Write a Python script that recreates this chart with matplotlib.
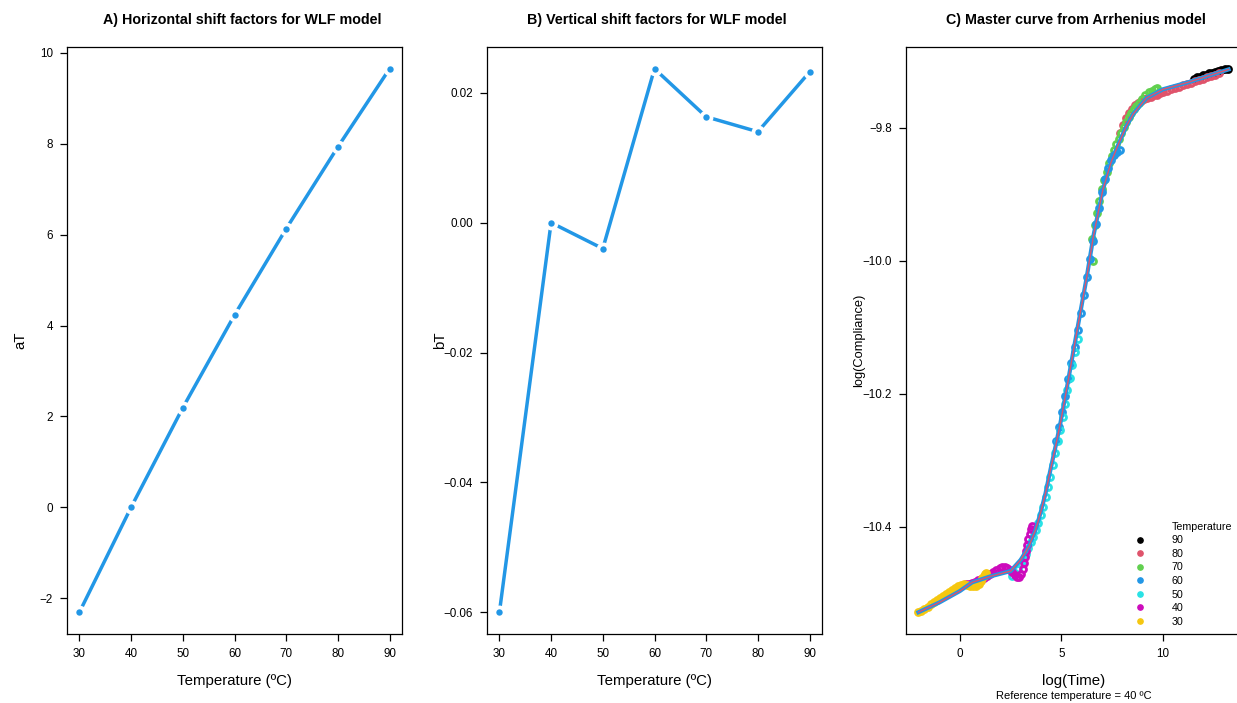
import numpy as np
import matplotlib
matplotlib.use('Agg')
import matplotlib.pyplot as plt
from matplotlib.lines import Line2D
from matplotlib.ticker import FuncFormatter

plt.rcParams['font.family'] = ['Liberation Sans', 'DejaVu Sans']

# --- shift factors (panels A, B) ---
temps = [30, 40, 50, 60, 70, 80, 90]
aT = [-2.31, 0.0, 2.19, 4.23, 6.13, 7.93, 9.65]
bT = [-0.0600, 0.0000, -0.0040, 0.0237, 0.0163, 0.0140, 0.0232]

# --- master curve data (panel C), log(Time) vs log(Compliance) ---
x90 = [11.55, 11.7, 11.85, 12.0, 12.15, 12.3, 12.45, 12.6, 12.75, 12.9, 13.05, 13.2]
y90 = [-9.726, -9.724, -9.723, -9.721, -9.720, -9.718, -9.717, -9.716, -9.714, -9.713, -9.712, -9.711]

x80 = [7.9, 8.05, 8.2, 8.35, 8.5, 8.65, 8.8, 8.95, 9.1, 9.25, 9.4, 9.55, 9.7, 9.85, 10.0,
       10.2, 10.4, 10.6, 10.8, 11.0, 11.2, 11.4, 11.6, 11.8, 12.0, 12.2, 12.4, 12.6, 12.8]
y80 = [-9.808, -9.795, -9.785, -9.777, -9.771, -9.766, -9.762, -9.759, -9.757, -9.755,
       -9.753, -9.751, -9.750, -9.748, -9.746, -9.744, -9.742, -9.740, -9.738, -9.736,
       -9.734, -9.732, -9.730, -9.728, -9.726, -9.724, -9.722, -9.720, -9.718]

x70 = [6.57, 6.52, 6.64, 6.76, 6.88, 7.0, 7.12, 7.24, 7.36, 7.48, 7.6, 7.72, 7.84, 7.96,
       8.08, 8.2, 8.32, 8.44, 8.56, 8.7, 8.85, 9.0, 9.15, 9.3, 9.45, 9.6, 9.7]
y70 = [-10.0, -9.967, -9.946, -9.928, -9.910, -9.892, -9.878, -9.866, -9.853, -9.843,
       -9.834, -9.825, -9.816, -9.807, -9.799, -9.791, -9.784, -9.778, -9.772, -9.767,
       -9.762, -9.756, -9.751, -9.746, -9.744, -9.742, -9.740]

x60 = [4.75, 4.9, 5.05, 5.2, 5.35, 5.5, 5.65, 5.8, 5.95, 6.1, 6.25, 6.4, 6.55, 6.7,
       6.85, 7.0, 7.15, 7.3, 7.45, 7.6, 7.75, 7.88]
y60 = [-10.272, -10.250, -10.227, -10.203, -10.178, -10.154, -10.130, -10.104, -10.078,
       -10.051, -10.025, -9.998, -9.971, -9.945, -9.920, -9.897, -9.877, -9.860, -9.848,
       -9.841, -9.836, -9.834]

x50 = [2.55, 2.7, 2.85, 3.0, 3.12, 3.25, 3.38, 3.5, 3.62, 3.74, 3.86, 3.98, 4.1, 4.22,
       4.34, 4.46, 4.58, 4.7, 4.82, 4.94, 5.06, 5.18, 5.3, 5.42, 5.54, 5.66, 5.8]
y50 = [-10.474, -10.470, -10.464, -10.457, -10.450, -10.442, -10.433, -10.424, -10.415,
       -10.405, -10.394, -10.383, -10.370, -10.356, -10.341, -10.325, -10.308, -10.290,
       -10.272, -10.254, -10.235, -10.215, -10.195, -10.176, -10.157, -10.138, -10.117]

x40 = [0.3, 0.45, 0.6, 0.75, 0.9, 1.05, 1.2, 1.35, 1.5, 1.65, 1.8, 1.95, 2.08, 2.2, 2.32,
       2.45, 2.58, 2.7, 2.82, 2.93, 3.02, 3.09, 3.14, 3.19, 3.25, 3.31, 3.38, 3.45, 3.52, 3.57]
y40 = [-10.487, -10.486, -10.485, -10.483, -10.481, -10.479, -10.477, -10.475, -10.472,
       -10.469, -10.466, -10.463, -10.461, -10.461, -10.462, -10.465, -10.469, -10.473,
       -10.476, -10.476, -10.472, -10.464, -10.455, -10.446, -10.437, -10.428, -10.419,
       -10.411, -10.404, -10.399]

x30 = [-2.05, -1.9, -1.75, -1.6, -1.45, -1.3, -1.15, -1.0, -0.85, -0.7, -0.55, -0.4,
       -0.25, -0.1, 0.05, 0.2, 0.35, 0.5, 0.65, 0.8, 0.92, 1.02, 1.1, 1.17, 1.23, 1.27]
y30 = [-10.529, -10.527, -10.524, -10.521, -10.517, -10.514, -10.511, -10.508, -10.505,
       -10.501, -10.498, -10.495, -10.492, -10.490, -10.488, -10.487, -10.488, -10.489,
       -10.490, -10.489, -10.486, -10.482, -10.478, -10.474, -10.471, -10.470]

# fitted master curve
xfit = [-2.05, -1.0, 0.0, 0.6, 1.5, 2.5, 3.0, 3.4, 3.73, 3.97, 4.22, 4.46, 4.71, 4.95,
        5.28, 5.6, 5.93, 6.25, 6.6, 7.05, 7.45, 7.85, 8.2, 8.55, 9.2, 10.0, 11.3, 13.25]
yfit = [-10.529, -10.514, -10.497, -10.484, -10.475, -10.467, -10.450, -10.430, -10.405,
        -10.380, -10.350, -10.315, -10.280, -10.245, -10.190, -10.135, -10.079, -10.025,
        -9.960, -9.893, -9.852, -9.822, -9.798, -9.779, -9.755, -9.742, -9.731, -9.712]

series_labels = ['90', '80', '70', '60', '50', '40', '30']
series_x = [x90, x80, x70, x60, x50, x40, x30]
series_y = [y90, y80, y70, y60, y50, y40, y30]
series_colors = ['#000000', '#DF536B', '#61D04F', '#2297E6', '#28E2E5', '#CD0BBC', '#F5C710']

BLUE = '#2297E6'
W, H = 1237, 703


def rlim(v):
    # R style axis range: data range + 4 %
    lo, hi = min(v), max(v)
    pad = 0.04 * (hi - lo)
    return lo - pad, hi + pad


def style(ax):
    for s in ax.spines.values():
        s.set_linewidth(0.9)
    ax.tick_params(direction='out', length=5, width=0.9, labelsize=8.4)
    ax.tick_params(axis='x', pad=5.2)
    ax.tick_params(axis='y', pad=5)


def put_labels(ax, title, xlabel, ylabel, ysize=10.8, tshift=0.0):
    ax.set_title(title, fontweight='bold', fontsize=10.3, pad=16.5)
    ax.title.set_x(0.5 + tshift)
    ax.set_xlabel(xlabel, fontsize=10.8, va='center')
    ax.xaxis.set_label_coords(0.5, -47 / 587)
    ax.set_ylabel(ylabel, fontsize=ysize, va='center', ha='center')
    ax.yaxis.set_label_coords(-47 / 335, 0.5)


def fmt(decimals):
    return FuncFormatter(lambda v, p: f'{v:.{decimals}f}'.replace('-', '\u2212'))


fig = plt.figure(figsize=(W / 100, H / 100), dpi=100)

# A) horizontal shift factors
ax1 = fig.add_axes([67 / W, 69 / H, 335 / W, 587 / H])
ax1.plot(temps, aT, color=BLUE, lw=2.5, solid_capstyle='butt', zorder=2)
ax1.plot(temps, aT, ls='none', marker='o', ms=10, mfc='white', mec='none', zorder=3)
ax1.plot(temps, aT, ls='none', marker='o', ms=4.6, mfc=BLUE, mec='none', zorder=4)
ax1.set_xlim(rlim(temps))
ax1.set_ylim(rlim(aT))
ax1.set_xticks(temps)
ax1.set_yticks([-2, 0, 2, 4, 6, 8, 10])
ax1.yaxis.set_major_formatter(fmt(0))
style(ax1)
put_labels(ax1, 'A) Horizontal shift factors for WLF model', 'Temperature (ºC)', 'aT',
           tshift=8 / 335)

# B) vertical shift factors
ax2 = fig.add_axes([487 / W, 69 / H, 335 / W, 587 / H])
ax2.plot(temps, bT, color=BLUE, lw=2.5, solid_capstyle='butt', zorder=2)
ax2.plot(temps, bT, ls='none', marker='o', ms=10, mfc='white', mec='none', zorder=3)
ax2.plot(temps, bT, ls='none', marker='o', ms=4.6, mfc=BLUE, mec='none', zorder=4)
ax2.set_xlim(rlim(temps))
ax2.set_ylim(rlim(bT))
ax2.set_xticks(temps)
ax2.set_yticks([-0.06, -0.04, -0.02, 0.0, 0.02])
ax2.yaxis.set_major_formatter(fmt(2))
style(ax2)
put_labels(ax2, 'B) Vertical shift factors for WLF model', 'Temperature (ºC)', 'bT',
           tshift=2 / 335)

# C) master curve
ax3 = fig.add_axes([906 / W, 69 / H, 335 / W, 587 / H])
for xs, ys, c in zip(series_x, series_y, series_colors):
    ax3.plot(xs, ys, ls='none', marker='o', ms=4.3, mfc='none', mec=c, mew=2.0, zorder=2)
ax3.plot(xfit, yfit, color=BLUE, lw=3.0, zorder=3)
ax3.plot(xfit, yfit, color='#DF536B', lw=1.0, zorder=4)

all_x = sum(series_x, []) + xfit
all_y = sum(series_y, []) + yfit
ax3.set_xlim(rlim(all_x))
ax3.set_ylim(rlim(all_y))
ax3.set_xticks([0, 5, 10])
ax3.set_yticks([-10.4, -10.2, -10.0, -9.8])
ax3.yaxis.set_major_formatter(fmt(1))
style(ax3)
put_labels(ax3, 'C) Master curve from Arrhenius model', 'log(Time)', 'log(Compliance)',
           ysize=9.3, tshift=2 / 335)
ax3.text(0.5, -62 / 587, 'Reference temperature = 40 ºC', transform=ax3.transAxes,
         ha='center', va='center', fontsize=8)

handles = [Line2D([], [], ls='none')]
labels = ['Temperature']
for lab, c in zip(series_labels, series_colors):
    handles.append(Line2D([], [], ls='none', marker='o', ms=3.8, color=c))
    labels.append(lab)
ax3.legend(handles, labels, loc='upper left', bbox_to_anchor=(0.6675, 0.191),
           frameon=False, fontsize=7.7, borderaxespad=0, borderpad=0,
           handlelength=2, handletextpad=1.95, labelspacing=0.33)

fig.savefig('out.png', dpi=100)
